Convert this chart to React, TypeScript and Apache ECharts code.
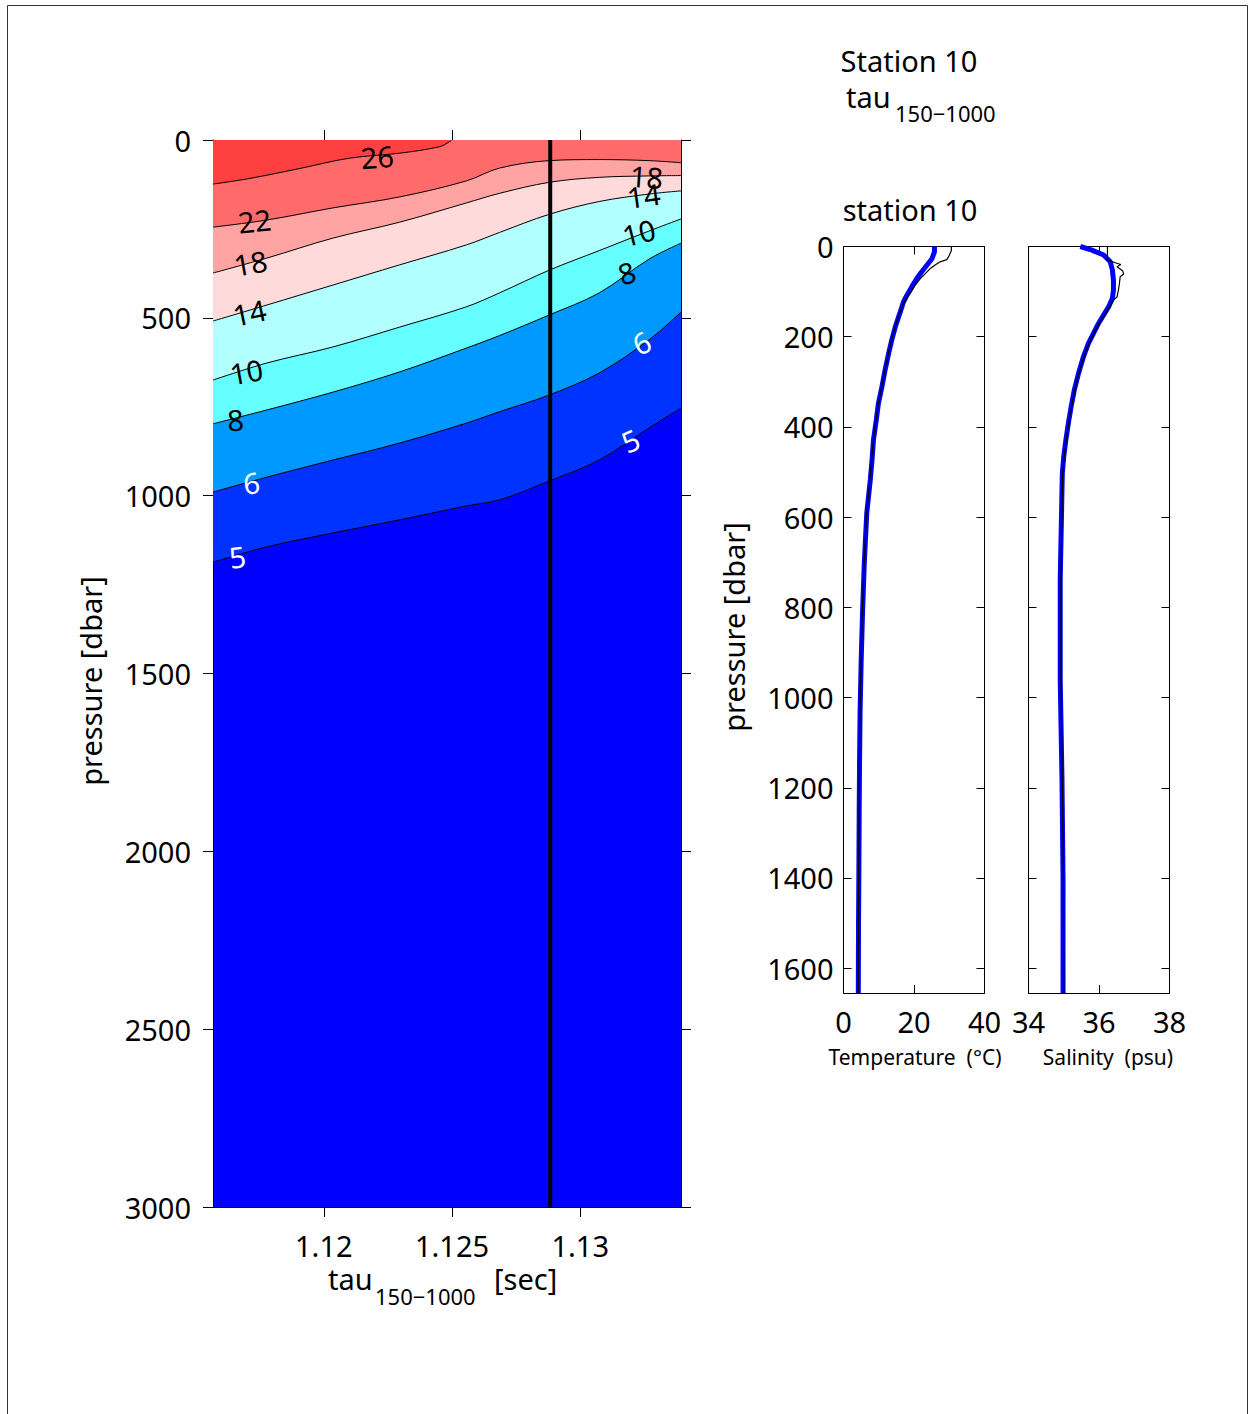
import React, { useEffect, useRef } from "react";
import * as echarts from "echarts";

// ---------- contour section (tau vs pressure) ----------
const tauMin = 1.11568;
const tauMax = 1.13393;
const tauTicks = [1.12, 1.125, 1.13];
const pressureTicks = [0, 500, 1000, 1500, 2000, 2500, 3000];
const stationTau = 1.12883;
const stationLineP = [0, 3000];

const tauCols = [1.11568, 1.11778, 1.12035, 1.12296, 1.12556, 1.12685, 1.12879, 1.13074, 1.13268, 1.13393];
const tau26 = [1.11568, 1.11712, 1.11907, 1.12101, 1.12296, 1.12451, 1.1249, 1.12498];
const p26 = [124, 108, 80, 51, 37, 19, 5, 0];
const p22 = [245, 225, 191, 160, 115, 79, 58, 55, 58, 64];
const p18 = [374, 332, 276, 231, 177, 150, 119, 105, 101, 100];
const p14 = [509, 464, 408, 351, 295, 260, 209, 173, 152, 143];
const p10 = [675, 627, 582, 526, 469, 430, 366, 311, 256, 222];
const p8 = [798, 759, 709, 652, 585, 550, 492, 430, 335, 290];
const p6 = [990, 948, 900, 852, 796, 764, 717, 655, 562, 484];
const p5 = [1187, 1144, 1105, 1068, 1029, 1012, 959, 900, 810, 754];

// contour labels (data coordinates)
const labelText = ["26", "22", "18", "14", "10", "8", "6", "5", "18", "14", "10", "8", "6", "5"];
const labelTau = [1.1221, 1.11732, 1.11716, 1.11712, 1.117, 1.11658, 1.1172, 1.11665, 1.13261, 1.13249, 1.1323, 1.13183, 1.13241, 1.13198];
const labelP = [48, 228, 346, 486, 652, 787, 964, 1172, 104, 157, 261, 374, 571, 846];
const labelRot = [4, 6, 10, 12, 10, 4, 8, 8, -4, 8, 14, 18, 26, 24];
const labelWhite = [false, false, false, false, false, false, true, true, false, false, false, false, true, true];

// band colours (area above each contour line, warmer side)
const bandColors = ["#0033ff", "#0099ff", "#66ffff", "#b2ffff", "#ffdada", "#ffa3a3", "#ff6b6b", "#ff4040"];
const deepColor = "#0000ff";

// ---------- station 10 profiles ----------
const profTicks = [0, 200, 400, 600, 800, 1000, 1200, 1400, 1600];
const profMax = 1655;

const tBlueP = [0, 12, 27, 41, 56, 71, 89, 108, 123, 145, 178, 207, 237, 274, 311, 348, 385, 429, 473, 517, 591, 702, 812, 923, 1034, 1145, 1255, 1403, 1506, 1655];
const tBlue = [25.8, 25.8, 25.1, 23.7, 22.2, 20.8, 19.4, 18.0, 17.0, 16.1, 14.7, 13.7, 12.8, 11.8, 10.9, 9.9, 9.3, 8.5, 8.1, 7.6, 6.6, 5.9, 5.4, 5.0, 4.7, 4.55, 4.45, 4.35, 4.26, 4.2];
const tBlackP = [0, 9, 23, 29, 34, 41, 49, 60, 71, 86, 100, 113, 130, 150, 183, 212, 242, 280, 317, 353, 392, 436, 480, 525, 600, 710, 820, 930, 1040, 1150, 1260, 1400, 1510, 1655];
const tBlack = [30.6, 30.6, 29.8, 29.3, 27.4, 26.0, 24.6, 23.2, 21.8, 20.3, 19.2, 18.0, 16.8, 15.8, 14.5, 13.5, 12.6, 11.6, 10.7, 9.8, 9.1, 8.4, 7.9, 7.4, 6.5, 5.8, 5.3, 4.95, 4.65, 4.5, 4.4, 4.3, 4.25, 4.2];

const sBlueP = [0, 8, 19, 34, 52, 75, 97, 115, 134, 152, 170, 193, 215, 244, 281, 318, 355, 392, 429, 466, 503, 540, 739, 960, 1181, 1403, 1655];
const sBlue = [35.47, 35.8, 36.13, 36.32, 36.38, 36.41, 36.41, 36.38, 36.27, 36.13, 35.99, 35.84, 35.7, 35.56, 35.42, 35.3, 35.21, 35.13, 35.06, 35.0, 34.96, 34.95, 34.9, 34.9, 34.95, 34.98, 34.98];
const sBlackP = [0, 23, 29, 36, 40, 45, 54, 61, 67, 82, 97, 112, 119, 135, 153, 171, 194, 216, 245, 282, 319, 356, 393, 430, 467, 504, 541, 740, 960, 1181, 1403, 1655];
const sBlack = [36.24, 36.24, 36.22, 36.46, 36.62, 36.51, 36.67, 36.7, 36.6, 36.58, 36.55, 36.51, 36.41, 36.3, 36.15, 36.0, 35.85, 35.71, 35.57, 35.43, 35.31, 35.22, 35.14, 35.07, 35.01, 34.97, 34.96, 34.92, 34.92, 34.96, 34.99, 35.0];

const FONT = "'Noto Sans', 'DejaVu Sans', sans-serif";

export default function App() {
  const ref = useRef<HTMLDivElement>(null);

  useEffect(() => {
    if (!ref.current) return;
    const chart = echarts.init(ref.current, null, { renderer: "svg" });
    const zip = (xs: number[], ys: number[]) => xs.map((x, i) => [x, ys[i]]);

    const contourLines = [p5, p6, p8, p10, p14, p18, p22];
    const contourSeries: any[] = contourLines.map((ps, i) => ({
      type: "line",
      xAxisIndex: 0,
      yAxisIndex: 0,
      data: zip(tauCols, ps),
      symbol: "none",
      smooth: 0.35,
      silent: true,
      z: 2,
      lineStyle: { color: "#000", width: 1 },
      areaStyle: { color: bandColors[i], opacity: 1, origin: "start" },
    }));
    contourSeries.push({
      type: "line",
      xAxisIndex: 0,
      yAxisIndex: 0,
      data: zip(tau26, p26),
      symbol: "none",
      smooth: 0.35,
      silent: true,
      z: 2,
      lineStyle: { color: "#000", width: 1 },
      areaStyle: { color: bandColors[7], opacity: 1, origin: "start" },
    });

    const stationSeries = {
      type: "line",
      xAxisIndex: 0,
      yAxisIndex: 0,
      data: stationLineP.map((p) => [stationTau, p]),
      symbol: "none",
      silent: true,
      z: 8,
      lineStyle: { color: "#000", width: 4 },
    };

    const labelSeries = {
      type: "scatter",
      xAxisIndex: 0,
      yAxisIndex: 0,
      symbolSize: 1,
      silent: true,
      clip: false,
      z: 10,
      itemStyle: { color: "rgba(0,0,0,0)", opacity: 1 },
      data: labelText.map((t, i) => ({
        value: [labelTau[i], labelP[i]],
        label: {
          show: true,
          position: [0, 0],
          align: "center",
          verticalAlign: "middle",
          formatter: () => t,
          rotate: labelRot[i],
          color: labelWhite[i] ? "#fff" : "#000",
          textBorderWidth: 0,
          opacity: 1,
          fontSize: 29,
          fontFamily: FONT,
        },
      })),
    };

    const lineStyleBlack = { color: "#000", width: 1 };
    const labelBase = { color: "#000", fontSize: 29, fontFamily: FONT, lineHeight: 30 };

    const mkX = (grid: number, min: number, max: number, pos: string, labels: boolean, inside: boolean, extra: any = {}) => ({
      type: "value",
      gridIndex: grid,
      min,
      max,
      position: pos,
      axisLine: { show: true, onZero: false, lineStyle: lineStyleBlack },
      axisTick: { show: true, inside, length: inside ? 8 : 10, lineStyle: lineStyleBlack, ...(extra.tick || {}) },
      axisLabel: { show: labels, ...labelBase, formatter: (v: number) => String(+Number(v).toFixed(3)), ...(extra.label || {}) },
      splitLine: { show: false },
      ...(extra.axis || {}),
    });

    const txt = (x: number, y: number, text: string, size: number, align: string, rot = 0) => ({
      type: "text",
      x,
      y,
      rotation: rot,
      silent: true,
      style: {
        text,
        fontSize: size,
        lineHeight: size,
        fontFamily: FONT,
        fill: "#000",
        textAlign: align,
        textVerticalAlign: "middle",
      },
    });

    const option: any = {
      animation: false,
      backgroundColor: "#fff",
      grid: [
        { left: 213, top: 140, width: 468, height: 1067, show: true, backgroundColor: deepColor, borderWidth: 0 },
        { left: 843.5, top: 246.5, width: 141, height: 746.5 },
        { left: 1028.5, top: 246.5, width: 141, height: 746.5 },
      ],
      xAxis: [
        mkX(0, tauMin, tauMax, "bottom", true, false, {
          tick: { customValues: tauTicks },
          label: { customValues: tauTicks, margin: 23 },
        }),
        mkX(0, tauMin, tauMax, "top", false, false, {
          tick: { customValues: tauTicks },
          label: { customValues: tauTicks },
        }),
        mkX(1, 0, 40, "bottom", true, true, { axis: { interval: 20 }, label: { margin: 13 } }),
        mkX(1, 0, 40, "top", false, true, { axis: { interval: 20 } }),
        mkX(2, 34, 38, "bottom", true, true, { axis: { interval: 2 }, label: { margin: 13 } }),
        mkX(2, 34, 38, "top", false, true, { axis: { interval: 2 } }),
      ],
      yAxis: [
        mkX(0, 0, 3000, "left", true, false, {
          axis: { inverse: true },
          tick: { customValues: pressureTicks },
          label: { customValues: pressureTicks, margin: 22 },
        }),
        mkX(0, 0, 3000, "right", false, false, {
          axis: { inverse: true },
          tick: { customValues: pressureTicks },
          label: { customValues: pressureTicks },
        }),
        mkX(1, 0, profMax, "left", true, true, {
          axis: { inverse: true },
          tick: { customValues: profTicks },
          label: { customValues: profTicks, margin: 10 },
        }),
        mkX(1, 0, profMax, "right", false, true, {
          axis: { inverse: true },
          tick: { customValues: profTicks },
          label: { customValues: profTicks },
        }),
        mkX(2, 0, profMax, "left", false, true, {
          axis: { inverse: true },
          tick: { customValues: profTicks },
          label: { customValues: profTicks },
        }),
        mkX(2, 0, profMax, "right", false, true, {
          axis: { inverse: true },
          tick: { customValues: profTicks },
          label: { customValues: profTicks },
        }),
      ],
      series: [
        ...contourSeries,
        stationSeries,
        labelSeries,
        {
          type: "line",
          xAxisIndex: 2,
          yAxisIndex: 2,
          data: zip(tBlue, tBlueP),
          symbol: "none",
          silent: true,
          lineStyle: { color: "#0000ff", width: 5 },
        },
        {
          type: "line",
          xAxisIndex: 2,
          yAxisIndex: 2,
          data: zip(tBlack, tBlackP),
          symbol: "none",
          silent: true,
          lineStyle: { color: "#000", width: 1.2 },
        },
        {
          type: "line",
          xAxisIndex: 4,
          yAxisIndex: 4,
          data: zip(sBlue, sBlueP),
          symbol: "none",
          silent: true,
          lineStyle: { color: "#0000ff", width: 5 },
        },
        {
          type: "line",
          xAxisIndex: 4,
          yAxisIndex: 4,
          data: zip(sBlack, sBlackP),
          symbol: "none",
          silent: true,
          lineStyle: { color: "#000", width: 1.2 },
        },
      ],
      graphic: [
        {
          type: "rect",
          silent: true,
          shape: { x: 7.5, y: 5.5, width: 1240, height: 1430 },
          style: { fill: "none", stroke: "#333", lineWidth: 1 },
        },
        txt(909, 60, "Station 10", 29, "center"),
        txt(846, 96, "tau", 29, "left"),
        txt(895, 113, "150\u22121000", 22, "left"),
        txt(910, 209, "station 10", 29, "center"),
        txt(328, 1278, "tau", 29, "left"),
        txt(375, 1296, "150\u22121000", 22, "left"),
        txt(494, 1278, "[sec]", 29, "left"),
        txt(915, 1057, "Temperature  (\u00b0C)", 21, "center"),
        txt(1108, 1057, "Salinity  (psu)", 21, "center"),
        txt(90, 681, "pressure [dbar]", 29, "center", Math.PI / 2),
        txt(733, 627, "pressure [dbar]", 29, "center", Math.PI / 2),
      ],
    };

    chart.setOption(option);
    return () => chart.dispose();
  }, []);

  return (
    <div
      ref={ref}
      style={{ position: "absolute", left: 0, top: 0, width: 1250, height: 1414 }}
    />
  );
}
